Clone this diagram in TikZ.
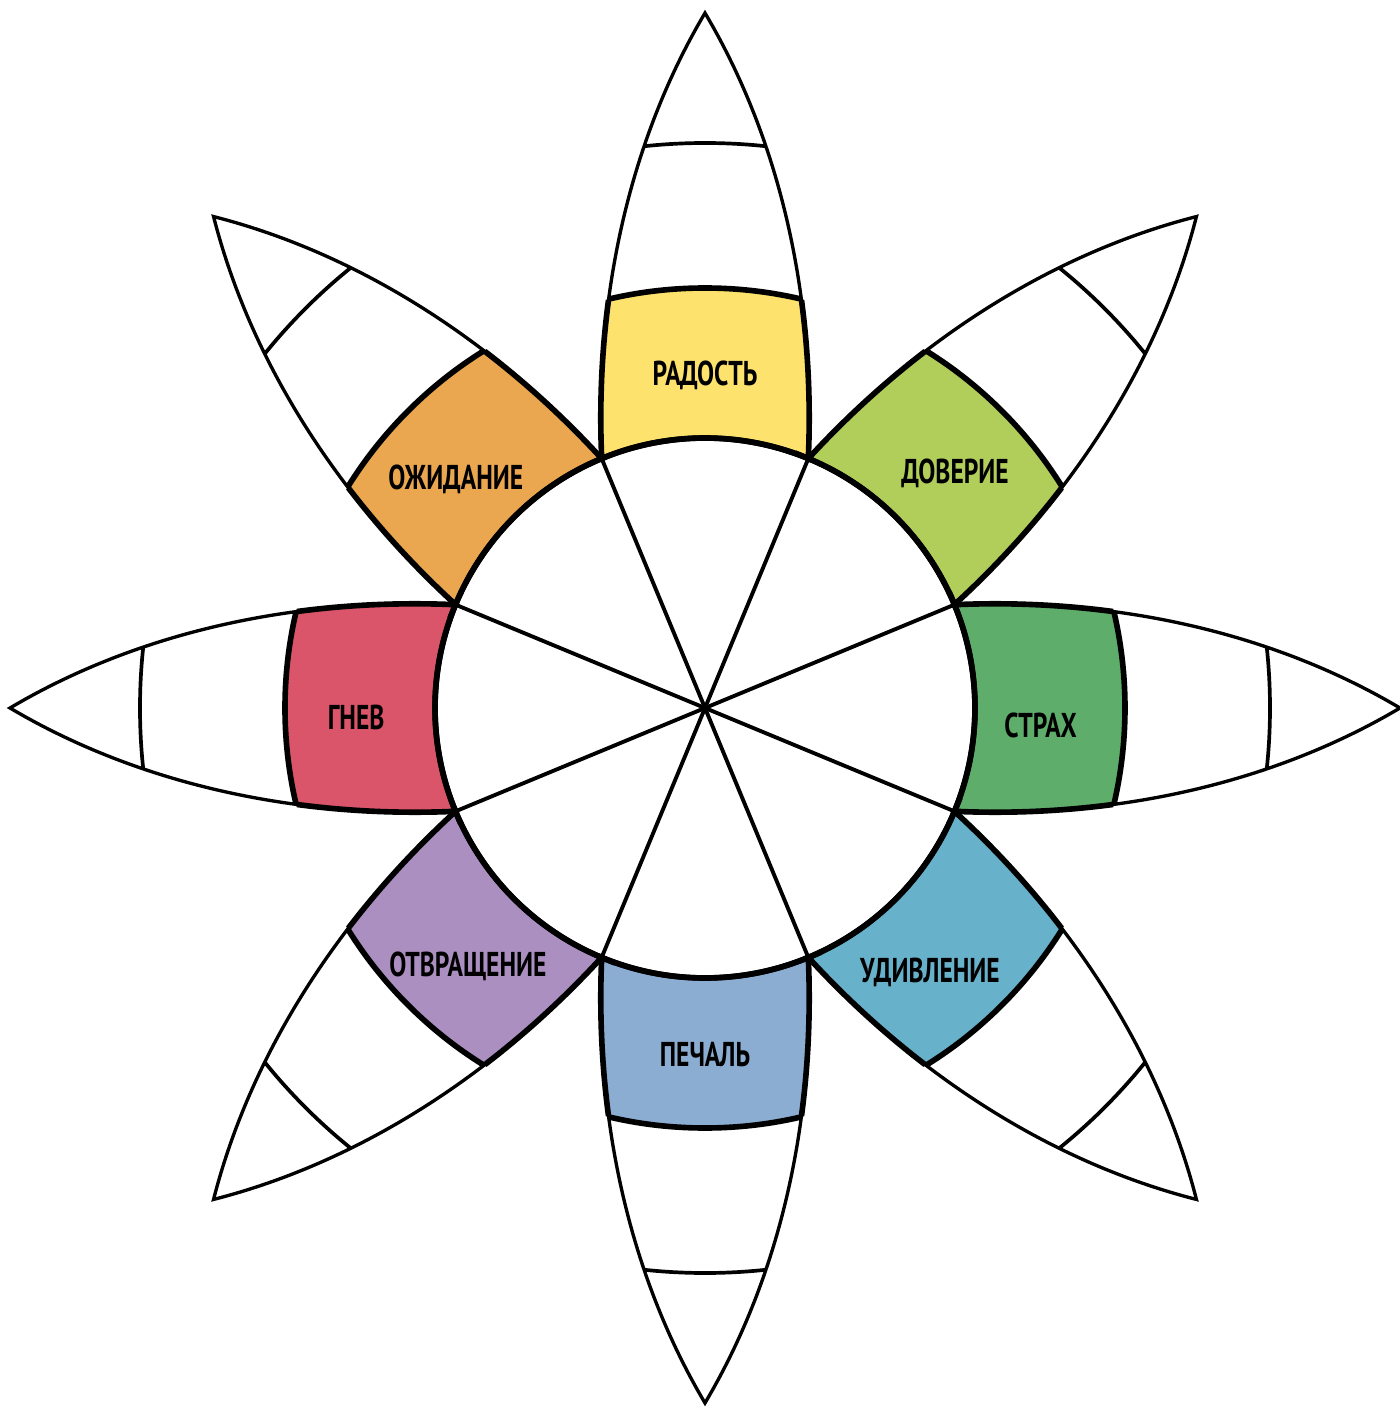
\documentclass[tikz,border=0pt]{standalone}
\usepackage{fontspec}
\newfontfamily\wheelfont[FakeStretch=0.74]{PT Sans Bold}
\definecolor{joy}{RGB}{253,227,110}
\definecolor{trust}{RGB}{178,206,90}
\definecolor{fear}{RGB}{95,173,106}
\definecolor{surprise}{RGB}{104,177,203}
\definecolor{sadness}{RGB}{140,173,210}
\definecolor{disgust}{RGB}{170,143,192}
\definecolor{anger}{RGB}{218,85,106}
\definecolor{anticip}{RGB}{235,167,80}

\begin{document}
\begin{tikzpicture}[
    outline/.style={line width=0.95pt},
    bandline/.style={line width=1.6pt},
    spoke/.style={line width=1.1pt},
    emo/.style={font=\wheelfont\fontsize{9.8}{10}\selectfont},
  ]
  \useasboundingbox (-7.05,-7.06) rectangle (6.95,7.08);
  \coordinate (c) at (0,0);
  \def\petalpath{(2.494,1.033) .. controls (4.0,1.1) and (5.6,0.8) .. (6.95,0)
    .. controls (5.6,-0.8) and (4.0,-1.1) .. (2.494,-1.033)
    arc[start angle=-22.5, end angle=22.5, radius=2.7] -- cycle}
  % Petals
  \foreach \a/\col in {90/joy, 45/trust, 0/fear, -45/surprise,
      -90/sadness, -135/disgust, 180/anger, 135/anticip} {
    \begin{scope}[rotate=\a]
      \fill[white] \petalpath;
      \begin{scope}
        \clip \petalpath;
        \fill[\col, even odd rule] (0,0) circle (4.2) (0,0) circle (2.7);
        \draw[outline, line width=1.05pt] (0,0) circle (5.65);
        \draw[bandline] (0,0) circle (4.2);
      \end{scope}
      \draw[outline] \petalpath;
      \begin{scope}
        \clip (0,0) circle (4.2);
        \draw[bandline] \petalpath;
      \end{scope}
    \end{scope}
  }
  % Inner circle
  \draw[bandline] (c) circle (2.7);
  \foreach \s in {22.5,67.5,...,337.5} {
    \draw[spoke] (c) -- (\s:2.7);
  }
  % Labels
  \foreach \n/\ang/\r/\txt in {joy/90/3.33/РАДОСТЬ, trust/43.2/3.43/ДОВЕРИЕ,
      fear/-3/3.36/СТРАХ, surprise/-49.6/3.47/УДИВЛЕНИЕ,
      sadness/-90/3.47/ПЕЧАЛЬ, disgust/-132.5/3.51/ОТВРАЩЕНИЕ,
      anger/181.5/3.49/ГНЕВ, anticip/137.5/3.38/ОЖИДАНИЕ} {
    \node[emo] (lbl-\n) at (\ang:\r) {\txt};
  }
\end{tikzpicture}
\end{document}
